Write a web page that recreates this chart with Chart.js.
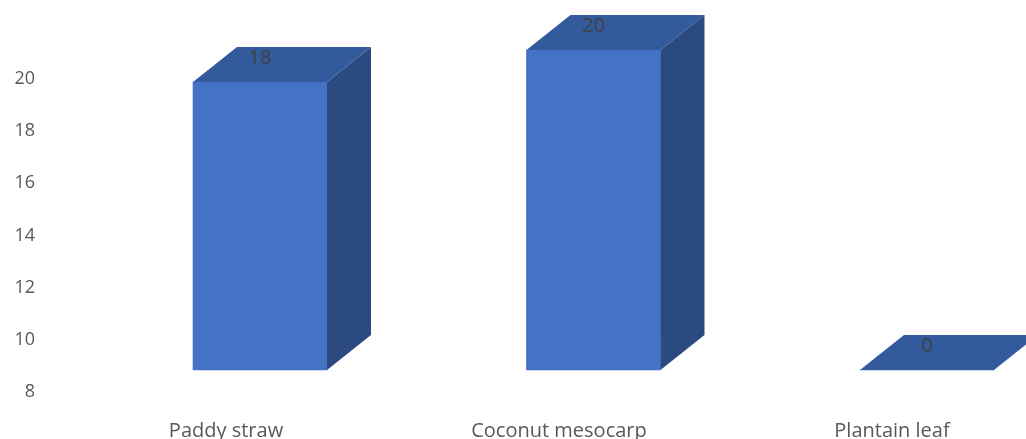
<!DOCTYPE html>
<html>
<head>
<meta charset="utf-8">
<script src="https://cdn.jsdelivr.net/npm/chart.js@4/dist/chart.umd.min.js"></script>
<style>
  html, body { margin: 0; padding: 0; background: #fff; }
  #wrap { width: 1026px; height: 439px; }
</style>
</head>
<body>
<div id="wrap"><canvas id="myChart"></canvas></div>
<script>
var categories = ["Paddy straw", "Coconut mesocarp", "Plantain leaf"];
var values = [18, 20, 0];
var yTicks = [8, 10, 12, 14, 16, 18, 20];

// depth of the fake 3d box
var DX = 44, DY = -35;

var bar3d = {
    id: 'bar3d',
    afterDatasetsDraw: function (chart) {
        var c = chart.ctx;
        var ds = chart.data.datasets[0];
        chart.getDatasetMeta(0).data.forEach(function (bar, i) {
            var p = bar.getProps(['x', 'y', 'base', 'width'], true);
            var l = p.x - p.width / 2, r = p.x + p.width / 2;
            c.save();
            // side face
            c.fillStyle = '#2b4a80';
            c.beginPath();
            c.moveTo(r, p.y);
            c.lineTo(r + DX, p.y + DY);
            c.lineTo(r + DX, p.base + DY);
            c.lineTo(r, p.base);
            c.closePath();
            c.fill();
            // top face
            c.fillStyle = '#325a9c';
            c.beginPath();
            c.moveTo(l, p.y);
            c.lineTo(l + DX, p.y + DY);
            c.lineTo(r + DX, p.y + DY);
            c.lineTo(r, p.y);
            c.closePath();
            c.fill();
            // value label
            c.fillStyle = '#404040';
            c.font = '20px "Open Sans"';
            c.textAlign = 'center';
            c.textBaseline = 'middle';
            c.fillText(String(ds.data[i].y), p.x, p.y - 24);
            c.restore();
        });
    }
};

var barData = values.map(function (v, i) { return { x: i, y: v }; });

var ctx = document.getElementById("myChart");
var myChart = new Chart(ctx, {
    type: 'bar',
    data: {
        datasets: [{
            data: barData,
            backgroundColor: '#4472c4',
            borderWidth: 0,
            barThickness: 134,
            xAxisID: 'xb',
            yAxisID: 'yb',
            clip: false
        }]
    },
    options: {
        responsive: true,
        maintainAspectRatio: false,
        animation: false,
        layout: { padding: { top: 79, right: 0, left: 0, bottom: 0 } },
        plugins: { legend: { display: false }, tooltip: { enabled: false } },
        scales: {
            x: {
                type: 'linear', position: 'bottom', offset: false,
                min: -0.5435, max: 2.4024,
                grid: { display: false, offset: false }, border: { display: false },
                afterBuildTicks: function (s) { s.ticks = categories.map(function (c, i) { return { value: i }; }); },
                afterFit: function (s) { s.height = 47; s.paddingLeft = 0; s.paddingRight = 0; },
                ticks: {
                    callback: function (v) { return categories[v]; },
                    font: { family: '"Open Sans"', size: 20 }, color: '#595959', padding: 19,
                    maxRotation: 0, autoSkip: false
                }
            },
            xb: {
                type: 'linear', display: false, offset: false,
                grid: { offset: false },
                min: -0.6447, max: 2.2969
            },
            y: {
                type: 'linear', position: 'left', min: 8, max: 20,
                grid: { display: false }, border: { display: false },
                afterBuildTicks: function (s) { s.ticks = yTicks.map(function (v) { return { value: v }; }); },
                afterFit: function (s) { s.width = 45; s.paddingTop = 0; s.paddingBottom = 0; },
                ticks: { font: { family: '"Open Sans"', size: 18 }, color: '#595959', padding: 2 }
            },
            yb: { type: 'linear', display: false, min: -1.375, max: 18.19 }
        }
    },
    plugins: [bar3d]
});
</script>
</body>
</html>
